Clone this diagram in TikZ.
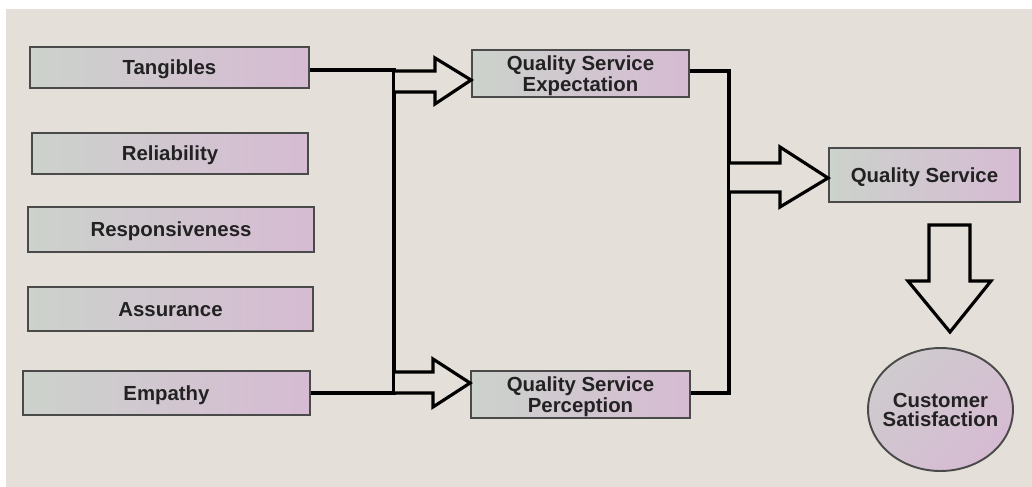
\documentclass[tikz,border=0pt]{standalone}
\usepackage{fontspec}
\setmainfont{Liberation Sans}
\usetikzlibrary{shapes.geometric}
\definecolor{paper}{HTML}{E4E0D9}
\definecolor{boxleft}{HTML}{CCD2CC}
\definecolor{boxmid}{HTML}{D0C8CF}
\definecolor{boxright}{HTML}{D6BBD3}
\definecolor{boxline}{HTML}{4A4A4A}
\definecolor{ink}{HTML}{222222}
\tikzset{
  factor/.style={draw=boxline, line width=1.1pt, left color=boxleft, middle color=boxmid, right color=boxright,
    inner sep=0pt, text depth=0pt, text=ink, font=\bfseries\fontsize{11.6}{10.8}\selectfont, align=center},
  wire/.style={line width=2pt, black},
  fat/.style={line width=1.8pt, black, fill=paper, line join=miter},
}
\begin{document}
\begin{tikzpicture}[x=0.02cm, y=-0.02cm]
  \useasboundingbox (0,0) rectangle (1032,487);
  \fill[white] (0,0) rectangle (1032,487);
  \fill[paper] (6,9) rectangle (1032,487);

  % five service dimensions
  \node[factor, minimum width=5.58cm, minimum height=0.82cm] (tan) at (169.5,67.5) {Tangibles};
  \node[factor, minimum width=5.52cm, minimum height=0.82cm] (rel) at (170,153.5) {Reliability};
  \node[factor, minimum width=5.72cm, minimum height=0.9cm] (res) at (171,229.5) {Responsiveness};
  \node[factor, minimum width=5.70cm, minimum height=0.88cm] (ass) at (170.5,309) {Assurance};
  \node[factor, minimum width=5.74cm, minimum height=0.88cm] (emp) at (166.5,393) {Empathy};

  % expectation and perception
  \node[factor, minimum width=4.34cm, minimum height=0.94cm] (qse) at (580.5,73.5) {Quality Service\\Expectation};
  \node[factor, minimum width=4.38cm, minimum height=0.94cm] (qsp) at (580.5,394.5) {Quality Service\\Perception};

  % outcome
  \node[factor, minimum width=3.82cm, minimum height=1.08cm] (qs) at (924.5,175) {Quality Service};
  \node[factor, ellipse, inner xsep=-4pt, minimum width=2.9cm, minimum height=2.46cm,
        left color=boxleft!70!boxright, right color=boxright, shading angle=45] (cs) at (940.5,409.5) {Customer\\Satisfaction};

  % left collector bus
  \coordinate (busT) at (394,70);
  \coordinate (busB) at (394,393);
  \draw[wire] (tan.east |- busT) -- (busT) -- (busB) -- (emp.east |- busB);

  % right collector bus
  \coordinate (rbT) at (729,71);
  \coordinate (rbB) at (729,393);
  \draw[wire] (qse.east |- rbT) -- (rbT) -- (rbB) -- (qsp.east |- rbB);

  % block arrows
  \draw[fat] (395,71) -- (435,71) -- (435,58) -- (qse.west |- 0,80) -- (435,104) -- (435,92) -- (395,92);
  \draw[fat] (395,372) -- (433,372) -- (433,359) -- (qsp.west |- 0,383) -- (433,407) -- (433,393) -- (395,393);
  \draw[fat] (730,163) -- (780,163) -- (780,147) -- (qs.west |- 0,178) -- (780,207) -- (780,192) -- (730,192);
  \draw[fat] (929,281) -- (929,225) -- (970,225) -- (970,281) -- (991,281) -- (950,332) -- (908,281) -- cycle;
\end{tikzpicture}
\end{document}
